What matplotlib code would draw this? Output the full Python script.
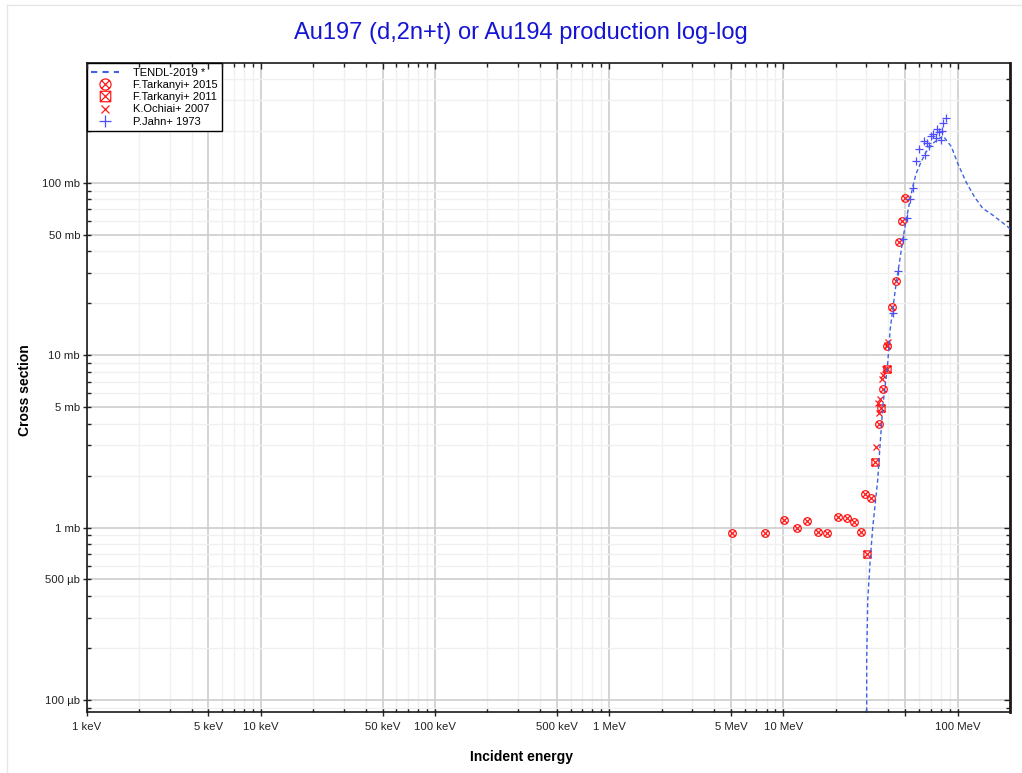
import numpy as np
import matplotlib
matplotlib.use("Agg")
import matplotlib.pyplot as plt
from matplotlib.path import Path
from matplotlib.lines import Line2D
from matplotlib.ticker import FixedLocator, FixedFormatter, NullFormatter

plt.rcParams['font.family'] = ['Liberation Sans', 'DejaVu Sans']

# --- data (energy in MeV, cross section in mb) ---
tendl_e = [30.05, 30.09, 30.09, 30.5, 31.5, 32.6, 34.8, 35.3, 37.2, 39.7, 41.0, 42.4,
           44.4, 46.3, 48.4, 50.7, 52.9, 55.3, 57.8, 61.7, 66.0, 72.0, 78.6, 82.9,
           92.1, 100.1, 111.9, 124.9, 139.3, 159.0, 193.9, 205.0]
tendl_s = [0.001, 0.05, 0.171, 0.38, 0.648, 1.01, 1.89, 2.36, 5.03, 8.97, 14.0, 18.3,
           26.1, 34.1, 46.6, 60.8, 76.0, 94.9, 113, 132, 151, 169, 181, 186,
           162, 130, 101, 83.0, 71.1, 65.0, 55.6, 53.0]

tark15_e = [5.1, 7.8, 10.1, 12.0, 13.7, 15.9, 17.8, 20.6, 23.1, 25.6, 27.8, 29.6, 31.7,
            35.3, 37.3, 39.5, 41.9, 44.2, 45.9, 47.8, 49.7]
tark15_s = [0.935, 0.93, 1.10, 0.99, 1.09, 0.94, 0.93, 1.15, 1.14, 1.07, 0.94, 1.57, 1.48,
            4.0, 6.35, 11.3, 19.1, 27.0, 45.1, 60.2, 82.0]

tark11_e = [30.1, 33.4, 36.5, 39.5]
tark11_s = [0.70, 2.40, 4.95, 8.26]

ochiai_e = [34.1, 34.8, 35.6, 36.1, 36.7, 37.2, 38.5, 39.4, 40.1]
ochiai_s = [2.94, 5.25, 4.6, 5.6, 7.3, 7.65, 8.3, 11.4, 12.0]

jahn_e = [42.6, 45.7, 48.4, 51.0, 53.1, 55.3, 57.8, 59.8, 65.3, 63.9, 66.8, 68.6, 70.4,
          72.6, 74.9, 76.3, 78.7, 80.4, 81.4, 82.9, 86.2]
jahn_s = [17.6, 30.8, 47.0, 62.8, 80.2, 93.8, 133, 157, 145, 175, 171, 164, 187,
          192, 183, 205, 196, 178, 200, 221, 239]

xtick_vals = [1e-3, 5e-3, 1e-2, 5e-2, 0.1, 0.5, 1, 5, 10, 50, 100]
xtick_labels = ['1 keV', '5 keV', '10 keV', '50 keV', '100 keV', '500 keV',
                '1 MeV', '5 MeV', '10 MeV', '', '100 MeV']
ytick_vals = [0.1, 0.5, 1, 5, 10, 50, 100]
ytick_labels = ['100 µb', '500 µb', '1 mb', '5 mb', '10 mb', '50 mb', '100 mb']


# marker shapes: circle with x, square with x
M, L = Path.MOVETO, Path.LINETO
d = 0.7071
cross_c = Path([(-d, -d), (d, d), (-d, d), (d, -d)], [M, L, M, L])
circ_x = Path.make_compound_path(Path.unit_circle(), cross_c)
square = Path([(-1, -1), (1, -1), (1, 1), (-1, 1), (-1, -1)], [M, L, L, L, Path.CLOSEPOLY])
cross_s = Path([(-1, -1), (1, 1), (-1, 1), (1, -1)], [M, L, M, L])
sq_x = Path.make_compound_path(square, cross_s)

W, H = 1022, 773
fig = plt.figure(figsize=(W / 100, H / 100), dpi=100)
pos = [86.7 / W, 1 - 711.7 / H, (1010 - 86.7) / W, (711.7 - 63.3) / H]
ax = fig.add_axes(pos)

red = '#ff1a1a'
ax.plot(tendl_e, tendl_s, color='#3f63e0', lw=1, dashes=(3, 2), label='TENDL-2019 *', zorder=4)
ax.plot(tark15_e, tark15_s, ls='none', marker=circ_x, ms=5.5, mfc='none', mec=red, mew=0.9,
        label='F.Tarkanyi+ 2015', zorder=3)
ax.plot(tark11_e, tark11_s, ls='none', marker=sq_x, ms=5.2, mfc='none', mec=red, mew=0.9,
        label='F.Tarkanyi+ 2011', zorder=3)
ax.plot(ochiai_e, ochiai_s, ls='none', marker='x', ms=4.2, mec=red, mew=0.9,
        label='K.Ochiai+ 2007', zorder=3)
ax.plot(jahn_e, jahn_s, ls='none', marker='+', ms=6, mec='#4d4dff', mew=0.9,
        label='P.Jahn+ 1973', zorder=3)

ax.set_xscale('log')
ax.set_yscale('log')
ax.set_xlim(1e-3, 200)
ax.set_ylim(0.0855, 493)

# tick positions
xminor = [m * 10.0 ** k for k in range(-3, 3) for m in (2, 3, 4, 6, 7, 8, 9) if m * 10.0 ** k < 200]
yminor = [m * 10.0 ** k for k in range(-2, 3) for m in (2, 3, 4, 6, 7, 8, 9)]
ax.xaxis.set_major_locator(FixedLocator(xtick_vals))
ax.xaxis.set_major_formatter(FixedFormatter(xtick_labels))
ax.xaxis.set_minor_locator(FixedLocator(xminor))
ax.xaxis.set_minor_formatter(NullFormatter())
ax.yaxis.set_major_locator(FixedLocator(ytick_vals))
ax.yaxis.set_major_formatter(FixedFormatter(ytick_labels))
ax.yaxis.set_minor_locator(FixedLocator(yminor))
ax.yaxis.set_minor_formatter(NullFormatter())

ax.tick_params(which='both', labelsize=8.2, colors='#222222')
ax.tick_params(which='major', direction='inout', length=5.5, width=1)
ax.tick_params(which='minor', direction='in', length=3, width=1)
ax.tick_params(axis='x', which='major', pad=5)
ax.tick_params(axis='y', which='major', pad=2)

ax.grid(True, which='major', color='#cdcdcd', lw=1.2)
ax.grid(True, which='minor', color='#f0f0f0', lw=1)
ax.set_axisbelow(True)
for s in ax.spines.values():
    s.set_color('#1a1a1a')
    s.set_linewidth(1.2)
ax.spines['right'].set_linewidth(2)

# inward ticks on top and right
ax2 = fig.add_axes(pos, sharex=ax, sharey=ax, frameon=False)
ax2.patch.set_visible(False)
ax2.tick_params(which='both', direction='in', left=False, bottom=False, top=True, right=True,
                labelleft=False, labelbottom=False, colors='#222222', width=1)
ax2.tick_params(which='major', length=4)
ax2.tick_params(which='minor', length=3)

leg = ax.legend(loc='upper left', bbox_to_anchor=(0, 1), borderaxespad=0, fontsize=8,
                fancybox=False, edgecolor='black', framealpha=1, markerscale=1.45,
                handlelength=2.5, handletextpad=1.3, labelspacing=0.2, borderpad=0.4)
leg.get_frame().set_linewidth(1)
leg.set_zorder(10)
leg_line = leg.get_lines()[0]
leg_line.set_linewidth(1.5)
leg_line.set_dashes((3, 2.5))

fig.text(521 / W, 1 - 33 / H, 'Au197 (d,2n+t) or Au194 production log-log',
         ha='center', va='center', fontsize=17, color='#1414d2')
fig.text(521 / W, 1 - 757 / H, 'Incident energy', ha='center', va='center',
         fontsize=10, fontweight='bold')
fig.text(25 / W, 1 - 390 / H, 'Cross section', ha='center', va='center',
         fontsize=10, fontweight='bold', rotation=90)

# light border round the figure
fig.add_artist(Line2D([7 / W, 7 / W], [0, 1 - 5 / H], color='#e6e6e6', lw=1))
fig.add_artist(Line2D([7 / W, 1], [1 - 5 / H, 1 - 5 / H], color='#e6e6e6', lw=1))

fig.savefig('out.png', dpi=100)
